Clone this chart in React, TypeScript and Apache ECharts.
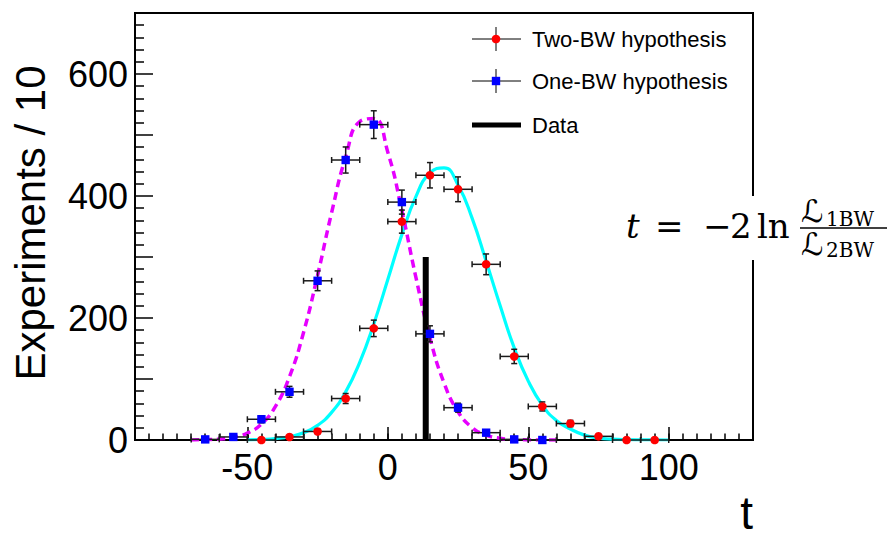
import React, { useEffect, useRef } from "react";
import * as echarts from "echarts";

// ---- data ----
const BIN_HALF_WIDTH = 5;

const TWO_BW_T = [-45, -35, -25, -15, -5, 5, 15, 25, 35, 45, 55, 65, 75, 85, 95];
const TWO_BW_N = [0, 5, 14, 68, 183, 358, 434, 411, 288, 137, 55, 27, 6, 0, 0];
const TWO_BW_ERR = [0, 2.2, 3.7, 8.2, 13.5, 18.9, 20.8, 20.3, 17, 11.7, 7.4, 5.2, 2.4, 0, 0];

const ONE_BW_T = [-65, -55, -45, -35, -25, -15, -5, 5, 15, 25, 35, 45, 55];
const ONE_BW_N = [1, 5, 34, 79, 261, 459, 517, 390, 174, 53, 12, 1, 0];
const ONE_BW_ERR = [1, 2.2, 5.8, 8.9, 16.2, 21.4, 22.7, 19.7, 13.2, 7.3, 3.5, 1, 0];

const ONE_CURVE_T = [-70, -65, -60, -55, -50, -45, -40, -35, -30, -25, -20, -15, -10, -5, 0, 5, 10, 15, 20, 25, 30, 35, 40, 45, 50, 55, 60];
const ONE_CURVE_Y = [0.1, 0.5, 1.5, 4.4, 11.3, 26.2, 55, 103.7, 176.3, 270, 372.9, 463.9, 522, 527, 471.7, 376.3, 266.6, 167.6, 93.6, 46.4, 20.4, 8.0, 2.8, 0.9, 0.2, 0.1, 0];

const TWO_CURVE_T = [-50, -45, -40, -35, -30, -25, -20, -15, -10, -5, 0, 5, 10, 15, 20, 25, 30, 35, 40, 45, 50, 55, 60, 65, 70, 75, 80, 85, 90, 95, 100];
const TWO_CURVE_Y = [0.3, 0.9, 2.3, 5.4, 11.8, 24, 45.3, 78.9, 127.4, 190.2, 263, 336.7, 399, 438, 446, 418, 363.7, 293, 220, 151, 96.5, 57.1, 32, 18, 8, 3.2, 1.3, 0.5, 0.2, 0.1, 0];

const DATA_T = 13.5;
const DATA_HEIGHT = 300;

const X_LABELS = [-50, 0, 50, 100];
const LEGEND_LABELS = ["Two-BW hypothesis", "One-BW hypothesis", "Data"];

const SANS = "'Liberation Sans', Arial, Helvetica, sans-serif";
const SERIF = "'DejaVu Serif', 'DejaVu Sans', serif";

function makeErrorRenderer(kind: "circle" | "square", color: string) {
  return (params: any, api: any) => {
    const t = api.value(0);
    const n = api.value(1);
    const e = api.value(2);
    const p = api.coord([t, n]);
    const l = api.coord([t - BIN_HALF_WIDTH, n]);
    const r = api.coord([t + BIN_HALF_WIDTH, n]);
    const stroke = { stroke: "#1a1a1a", lineWidth: 1.5 };
    const cap = 3;
    const children: any[] = [
      { type: "line", shape: { x1: l[0], y1: l[1], x2: r[0], y2: r[1] }, style: stroke },
      { type: "line", shape: { x1: l[0], y1: l[1] - cap, x2: l[0], y2: l[1] + cap }, style: stroke },
      { type: "line", shape: { x1: r[0], y1: r[1] - cap, x2: r[0], y2: r[1] + cap }, style: stroke },
    ];
    if (e > 0) {
      const top = api.coord([t, n + e]);
      const bot = api.coord([t, Math.max(n - e, 0)]);
      children.push(
        { type: "line", shape: { x1: top[0], y1: top[1], x2: bot[0], y2: bot[1] }, style: stroke },
        { type: "line", shape: { x1: top[0] - cap, y1: top[1], x2: top[0] + cap, y2: top[1] }, style: stroke },
        { type: "line", shape: { x1: bot[0] - cap, y1: bot[1], x2: bot[0] + cap, y2: bot[1] }, style: stroke }
      );
    }
    if (kind === "circle") {
      children.push({ type: "circle", shape: { cx: p[0], cy: p[1], r: 4.3 }, style: { fill: color } });
    } else {
      children.push({ type: "rect", shape: { x: p[0] - 4.2, y: p[1] - 4.2, width: 8.4, height: 8.4 }, style: { fill: color } });
    }
    return { type: "group", children };
  };
}

export default function App() {
  const ref = useRef<HTMLDivElement>(null);

  useEffect(() => {
    if (!ref.current) return;
    const chart = echarts.init(ref.current, undefined, { renderer: "svg" });

    const twoData = TWO_BW_T.map((t, i) => [t, TWO_BW_N[i], TWO_BW_ERR[i]]);
    const oneData = ONE_BW_T.map((t, i) => [t, ONE_BW_N[i], ONE_BW_ERR[i]]);
    const oneCurve = ONE_CURVE_T.map((t, i) => [t, ONE_CURVE_Y[i]]);
    const twoCurve = TWO_CURVE_T.map((t, i) => [t, TWO_CURVE_Y[i]]);

    const legendRows = [39, 81, 125];
    const legendGraphics: any[] = [];
    LEGEND_LABELS.forEach((label, i) => {
      const y = legendRows[i];
      if (i < 2) {
        legendGraphics.push(
          { type: "line", shape: { x1: 472, y1: y, x2: 521, y2: y }, style: { stroke: "#000", lineWidth: 1 }, z: 100 },
          { type: "line", shape: { x1: 496, y1: y - 12, x2: 496, y2: y + 12 }, style: { stroke: "#000", lineWidth: 1 }, z: 100 },
          i === 0
            ? { type: "circle", shape: { cx: 496, cy: y, r: 4.3 }, style: { fill: "#ff0000" }, z: 101 }
            : { type: "rect", shape: { x: 491.8, y: y - 4.2, width: 8.4, height: 8.4 }, style: { fill: "#0000ff" }, z: 101 }
        );
      } else {
        legendGraphics.push({ type: "rect", shape: { x: 472, y: y - 2.5, width: 49, height: 5 }, style: { fill: "#000" }, z: 100 });
      }
      legendGraphics.push({
        type: "text", x: 532, y: y, z: 100,
        style: { text: label, fill: "#000", font: `22px ${SANS}`, textAlign: "left", textVerticalAlign: "middle", align: "left", verticalAlign: "middle" },
      });
    });

    const txt = (text: string, x: number, y: number, size: number, extra: any = {}) => ({
      type: "text", x, y, z: 120,
      style: { text, fill: "#000", font: `${extra.italic ? "italic " : ""}${size}px ${extra.family || SERIF}`, textAlign: extra.align || "left", align: extra.align || "left", textVerticalAlign: "middle", verticalAlign: "middle" },
    });

    const formula: any[] = [
      { type: "rect", shape: { x: 622, y: 196, width: 270, height: 64 }, style: { fill: "#fff" }, z: 110 },
      txt("t", 626, 226, 34, { italic: true }),
      txt("=", 655, 226, 34),
      txt("\u2212", 703, 226, 34),
      txt("2", 730, 226, 34),
      txt("ln", 757, 226, 34),
      txt("\u2112", 801, 211, 31),
      txt("1BW", 826, 219, 20),
      { type: "line", shape: { x1: 800, y1: 228, x2: 887, y2: 228 }, style: { stroke: "#000", lineWidth: 1.5 }, z: 120 },
      txt("\u2112", 801, 244, 31),
      txt("2BW", 826, 250, 20),
    ];

    const option: any = {
      animation: false,
      backgroundColor: "#fff",
      grid: { left: 135, top: 13, right: 139, bottom: 93, show: true, borderColor: "#000", borderWidth: 2, backgroundColor: "transparent", containLabel: false },
      xAxis: [
        {
          type: "value", min: -90, max: 130, position: "bottom",
          axisLine: { show: true, onZero: false, lineStyle: { color: "#000", width: 2 } },
          axisTick: { show: true, inside: true, length: 13, lineStyle: { color: "#000", width: 1.5 }, customValues: X_LABELS },
          axisLabel: { show: true, customValues: X_LABELS, fontSize: 36, color: "#000", fontFamily: SANS, margin: 9 },
          splitLine: { show: false },
        },
        {
          type: "value", min: -90, max: 130, interval: 5, position: "bottom", offset: 0,
          axisLine: { show: false, onZero: false },
          axisTick: { show: true, inside: true, length: 6.5, lineStyle: { color: "#000", width: 1.5 } },
          axisLabel: { show: false },
          splitLine: { show: false },
        },
      ],
      yAxis: {
        type: "value", min: 0, max: 700, interval: 100,
        axisLine: { show: true, onZero: false, lineStyle: { color: "#000", width: 2 } },
        axisTick: { show: true, inside: true, length: 18, lineStyle: { color: "#000", width: 1.5 } },
        minorTick: { show: true, splitNumber: 5, length: 9, lineStyle: { color: "#000", width: 1.5 } },
        axisLabel: { fontSize: 36, color: "#000", fontFamily: SANS, margin: 7, formatter: (v: number) => (v % 200 === 0 ? String(v) : "") },
        splitLine: { show: false },
        minorSplitLine: { show: false },
      },
      series: [
        {
          type: "line", data: twoCurve, smooth: true, showSymbol: false, symbol: "none", z: 2,
          lineStyle: { color: "#00ffff", width: 3.2 }, silent: true,
        },
        {
          type: "line", data: oneCurve, smooth: true, showSymbol: false, symbol: "none", z: 2,
          lineStyle: { color: "#e600ff", width: 3.5, type: [8, 5] }, silent: true,
        },
        {
          type: "line", data: [[DATA_T, 0], [DATA_T, DATA_HEIGHT]], showSymbol: false, symbol: "none", z: 3,
          lineStyle: { color: "#000", width: 6, cap: "butt" }, silent: true,
        },
        {
          type: "custom", data: oneData, renderItem: makeErrorRenderer("square", "#0000ff"), clip: false, z: 4,
          encode: { x: 0, y: 1 }, silent: true,
        },
        {
          type: "custom", data: twoData, renderItem: makeErrorRenderer("circle", "#ff0000"), clip: false, z: 5,
          encode: { x: 0, y: 1 }, silent: true,
        },
      ],
      graphic: [
        ...legendGraphics,
        ...formula,
        {
          type: "text", x: 30, y: 223, rotation: Math.PI / 2, z: 100,
          style: { text: "Experiments / 10", fill: "#000", font: `42px ${SANS}`, textAlign: "center", align: "center", textVerticalAlign: "middle", verticalAlign: "middle" },
        },
        {
          type: "text", x: 753, y: 513, z: 100,
          style: { text: "t", fill: "#000", font: `46px ${SANS}`, textAlign: "right", align: "right", textVerticalAlign: "middle", verticalAlign: "middle" },
        },
      ],
    };

    chart.setOption(option);
    return () => chart.dispose();
  }, []);

  return <div ref={ref} style={{ position: "fixed", left: 0, top: 0, width: 892, height: 533, background: "#fff" }} />;
}
